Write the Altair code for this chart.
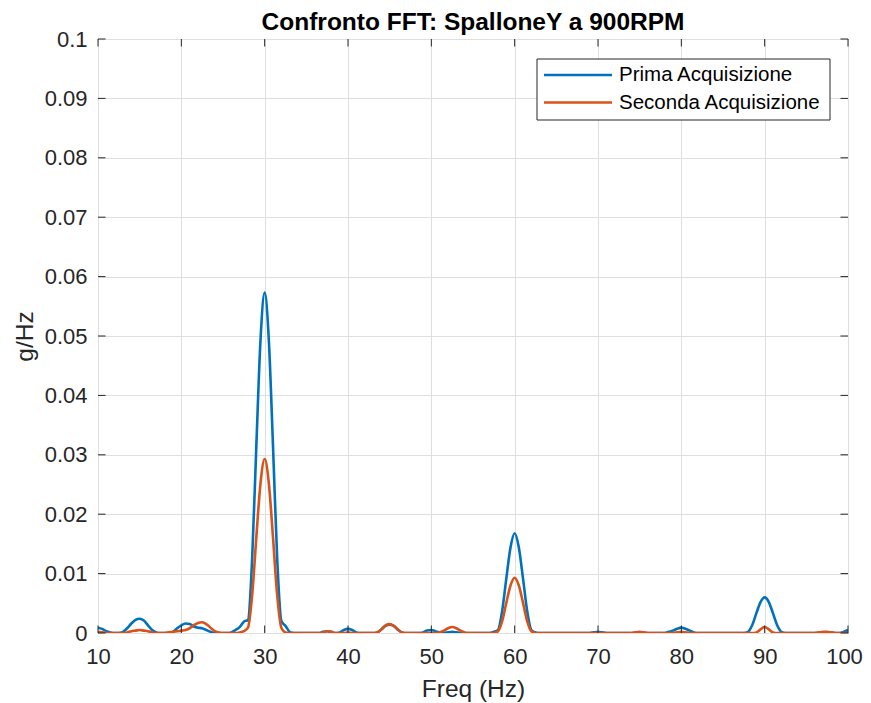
import altair as alt
import pandas as pd

# ---------------- data ----------------
freq = [10 + 0.5 * i for i in range(181)]  # FFT bins, 0.5 Hz spacing

prima = [
    0.0009, 0.0007, 0.0003, 0.0001, 0.0, 0.0, 0.0002, 0.0008, 0.0016, 0.0022,   # 10.0-14.5
    0.0024, 0.0021, 0.0013, 0.0005, 0.0001, 0.0, 0.0, 0.0, 0.0002, 0.0008,      # 15.0-19.5
    0.0013, 0.0016, 0.0015, 0.0011, 0.0009, 0.0008, 0.0005, 0.0002, 0.0, 0.0,   # 20.0-24.5
    0.0, 0.0, 0.0001, 0.0005, 0.0010, 0.0019, 0.0022, 0.0126, 0.0315, 0.0493,   # 25.0-29.5
    0.0573, 0.0493, 0.0315, 0.0126, 0.0020, 0.0012, 0.0002, 0.0, 0.0, 0.0,      # 30.0-34.5
    0.0, 0.0, 0.0, 0.0, 0.0002, 0.0003, 0.0002, 0.0, 0.0001, 0.0005,            # 35.0-39.5
    0.0007, 0.0005, 0.0001, 0.0, 0.0, 0.0, 0.0, 0.0001, 0.0006, 0.0012,         # 40.0-44.5
    0.0014, 0.0012, 0.0005, 0.0001, 0.0, 0.0, 0.0, 0.0, 0.0001, 0.0004,         # 45.0-49.5
    0.0005, 0.0003, 0.0001, 0.0, 0.0001, 0.0002, 0.0001, 0.0, 0.0, 0.0,         # 50.0-54.5
    0.0, 0.0, 0.0, 0.0, 0.0, 0.0002, 0.0005, 0.0037, 0.0092, 0.0144,            # 55.0-59.5
    0.0168, 0.0144, 0.0092, 0.0037, 0.0005, 0.0001, 0.0, 0.0, 0.0, 0.0,         # 60.0-64.5
    0.0, 0.0, 0.0, 0.0, 0.0, 0.0, 0.0, 0.0, 0.0, 0.0001,                        # 65.0-69.5
    0.0002, 0.0001, 0.0, 0.0, 0.0, 0.0, 0.0, 0.0, 0.0, 0.0,                     # 70.0-74.5
    0.0, 0.0, 0.0, 0.0, 0.0, 0.0, 0.0, 0.0002, 0.0004, 0.0007,                  # 75.0-79.5
    0.0009, 0.0007, 0.0004, 0.0001, 0.0, 0.0, 0.0, 0.0, 0.0, 0.0,               # 80.0-84.5
    0.0, 0.0, 0.0, 0.0, 0.0, 0.0, 0.0002, 0.0013, 0.0033, 0.0052,               # 85.0-89.5
    0.0060, 0.0052, 0.0033, 0.0013, 0.0002, 0.0, 0.0, 0.0, 0.0, 0.0,            # 90.0-94.5
    0.0, 0.0, 0.0, 0.0, 0.0, 0.0001, 0.0001, 0.0, 0.0, 0.0002,                  # 95.0-99.5
    0.0005,                                                                      # 100.0
]

seconda = [
    0.0002, 0.0001, 0.0, 0.0, 0.0, 0.0, 0.0, 0.0001, 0.0003, 0.0004,            # 10.0-14.5
    0.0005, 0.0004, 0.0003, 0.0001, 0.0, 0.0, 0.0, 0.0001, 0.0002, 0.0003,      # 15.0-19.5
    0.0004, 0.0005, 0.0008, 0.0013, 0.0017, 0.0018, 0.0015, 0.0009, 0.0003, 0.0001,  # 20.0-24.5
    0.0, 0.0, 0.0, 0.0, 0.0001, 0.0003, 0.0009, 0.0064, 0.0161, 0.0252,         # 25.0-29.5
    0.0293, 0.0252, 0.0161, 0.0064, 0.0009, 0.0001, 0.0, 0.0, 0.0, 0.0,         # 30.0-34.5
    0.0, 0.0, 0.0, 0.0, 0.0001, 0.0003, 0.0002, 0.0, 0.0, 0.0,                  # 35.0-39.5
    0.0001, 0.0, 0.0, 0.0, 0.0, 0.0, 0.0, 0.0001, 0.0006, 0.0013,               # 40.0-44.5
    0.0015, 0.0012, 0.0006, 0.0001, 0.0, 0.0, 0.0, 0.0, 0.0, 0.0,               # 45.0-49.5
    0.0, 0.0, 0.0001, 0.0004, 0.0008, 0.0010, 0.0008, 0.0004, 0.0001, 0.0,      # 50.0-54.5
    0.0, 0.0, 0.0, 0.0, 0.0, 0.0, 0.0003, 0.0020, 0.0051, 0.0080,               # 55.0-59.5
    0.0093, 0.0080, 0.0051, 0.0020, 0.0003, 0.0, 0.0, 0.0, 0.0, 0.0,            # 60.0-64.5
    0.0, 0.0, 0.0, 0.0, 0.0, 0.0, 0.0, 0.0, 0.0, 0.0,                           # 65.0-69.5
    0.0, 0.0, 0.0, 0.0, 0.0, 0.0, 0.0, 0.0, 0.0, 0.0001,                        # 70.0-74.5
    0.0002, 0.0001, 0.0, 0.0, 0.0, 0.0, 0.0, 0.0, 0.0, 0.0001,                  # 75.0-79.5
    0.0002, 0.0001, 0.0, 0.0, 0.0, 0.0, 0.0, 0.0, 0.0, 0.0,                     # 80.0-84.5
    0.0, 0.0, 0.0, 0.0, 0.0, 0.0, 0.0, 0.0, 0.0001, 0.0006,                     # 85.0-89.5
    0.0010, 0.0006, 0.0001, 0.0, 0.0, 0.0, 0.0, 0.0, 0.0, 0.0,                  # 90.0-94.5
    0.0, 0.0, 0.0, 0.0001, 0.0002, 0.0002, 0.0001, 0.0, 0.0, 0.0,               # 95.0-99.5
    0.0,                                                                         # 100.0
]

series_names = ["Prima Acquisizione", "Seconda Acquisizione"]
series_colors = ["#0072BD", "#D95319"]

x_ticks = [10, 20, 30, 40, 50, 60, 70, 80, 90, 100]
y_ticks = [0, 0.01, 0.02, 0.03, 0.04, 0.05, 0.06, 0.07, 0.08, 0.09, 0.1]

title_text = "Confronto FFT: SpalloneY a 900RPM"
x_title = "Freq (Hz)"
y_title = "g/Hz"

# ---------------- layout / style ----------------
W, H = 750, 594
AX = "#262626"
FONT = "Liberation Sans"
TICK_LEN = 7.5

df = pd.DataFrame({
    "freq": freq + freq,
    "val": prima + seconda,
    "series": [series_names[0]] * len(freq) + [series_names[1]] * len(freq),
})

x_scale = alt.Scale(domain=[10, 100], nice=False, zero=False)
y_scale = alt.Scale(domain=[0, 0.1], nice=False, zero=False)

lines = alt.Chart(df).mark_line(strokeWidth=2.6, interpolate="monotone", clip=True).encode(
    x=alt.X("freq:Q", scale=x_scale,
            axis=alt.Axis(values=x_ticks, title=x_title, grid=True, ticks=False, domain=False,
                          labelFlush=False, labelPadding=13, labelFontSize=22, labelColor=AX,
                          labelOffset={"condition": {"test": "datum.value == 100", "value": -4},
                                       "value": 0},
                          titleFontSize=24.5, titleFontWeight="normal", titleColor=AX,
                          titlePadding=10, gridColor="#dfdfdf", gridWidth=1)),
    y=alt.Y("val:Q", scale=y_scale,
            axis=alt.Axis(values=y_ticks, format="~g", title=y_title, grid=True, ticks=False,
                          domain=False, labelFlush=False, labelPadding=11, labelFontSize=22,
                          labelColor=AX, titleFontSize=24.5, titleFontWeight="normal",
                          titleColor=AX, titlePadding=7, gridColor="#dfdfdf", gridWidth=1)),
    color=alt.Color("series:N", scale=alt.Scale(domain=series_names, range=series_colors),
                    legend=None),
)

xt = pd.DataFrame({"freq": x_ticks})
yt = pd.DataFrame({"val": y_ticks})

tick_bottom = alt.Chart(xt).mark_rule(color=AX, strokeWidth=1).encode(
    x="freq:Q", y=alt.value(H), y2=alt.value(H - TICK_LEN))
tick_top = alt.Chart(xt).mark_rule(color=AX, strokeWidth=1).encode(
    x="freq:Q", y=alt.value(0), y2=alt.value(TICK_LEN))
tick_left = alt.Chart(yt).mark_rule(color=AX, strokeWidth=1).encode(
    y="val:Q", x=alt.value(0), x2=alt.value(TICK_LEN))
tick_right = alt.Chart(yt).mark_rule(color=AX, strokeWidth=1).encode(
    y="val:Q", x=alt.value(W), x2=alt.value(W - TICK_LEN))

# ---------------- legend (drawn as a MATLAB-style box) ----------------
one = pd.DataFrame({"k": [0]})
LX0, LX1, LY0, LY1 = 439, 732, 20, 81
SYM0, SYM1, TXT = 446, 514, 521
ROWS = [36, 63.5]

leg_box = alt.Chart(one).mark_rect(fill="white", stroke=AX, strokeWidth=1).encode(
    x=alt.value(LX0), x2=alt.value(LX1), y=alt.value(LY0), y2=alt.value(LY1))
leg_layers = [leg_box]
for name, col, ry in zip(series_names, series_colors, ROWS):
    leg_layers.append(alt.Chart(one).mark_rule(color=col, strokeWidth=2.6).encode(
        x=alt.value(SYM0), x2=alt.value(SYM1), y=alt.value(ry)))
    leg_layers.append(alt.Chart(one).mark_text(
        align="left", baseline="middle", fontSize=20.5, color="#000000", font=FONT).encode(
        x=alt.value(TXT), y=alt.value(ry), text=alt.value(name)))

chart = alt.layer(lines, tick_bottom, tick_top, tick_left, tick_right, *leg_layers).properties(
    width=W, height=H,
    title=alt.TitleParams(title_text, fontSize=24.5, fontWeight="bold", color="#000000",
                          offset=-7, anchor="middle", font=FONT),
    autosize=alt.AutoSizeParams(type="none"),
    padding={"left": 90, "top": 31, "right": 15, "bottom": 70},
).configure(font=FONT).configure_view(stroke=AX, strokeWidth=1)

chart.save("out.html", embed_options={"renderer": "svg", "actions": False})
